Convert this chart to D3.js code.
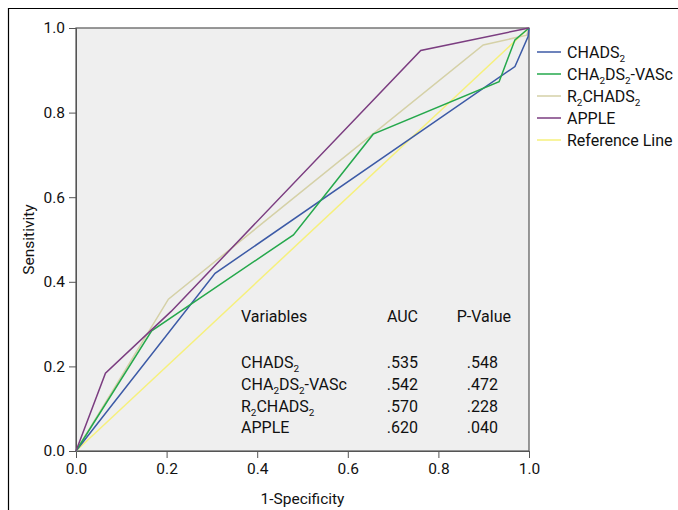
<!DOCTYPE html>
<html>
<head>
<meta charset="utf-8">
<script src="https://cdn.jsdelivr.net/npm/d3@7"></script>
<style>
  body { margin: 0; background: #fff; }
  svg text { font-family: Roboto, "Liberation Sans", sans-serif; fill: #111; }
</style>
</head>
<body>
<div id="chart"></div>
<script>
// ROC curves (1-specificity, sensitivity)
const chadsX = [0, 0.307, 0.969, 0.998, 1];
const chadsY = [0, 0.42, 0.909, 0.98, 1];
const vascX = [0, 0.167, 0.48, 0.656, 0.934, 0.969, 1];
const vascY = [0, 0.284, 0.511, 0.749, 0.873, 0.972, 1];
const r2X = [0, 0.204, 0.899, 0.995, 1];
const r2Y = [0, 0.359, 0.96, 0.983, 1];
const appleX = [0, 0.065, 0.21, 0.761, 1];
const appleY = [0, 0.184, 0.33, 0.947, 1];
const refX = [0, 1];
const refY = [0, 1];

const legendNames = ["CHADS_2", "CHA_2DS_2-VASc", "R_2CHADS_2", "APPLE", "Reference Line"];
const lineColors = ["#3c5aa6", "#25a84c", "#d5d1a7", "#7b3d80", "#f6f07c"];

const tableHeader = ["Variables", "AUC", "P-Value"];
const tableVars = ["CHADS_2", "CHA_2DS_2-VASc", "R_2CHADS_2", "APPLE"];
const aucValues = [".535", ".542", ".570", ".620"];
const pValues = [".548", ".472", ".228", ".040"];

const tickValues = [0, 0.2, 0.4, 0.6, 0.8, 1.0];

const width = 678, height = 510;
const margin = { top: 28, right: 149, bottom: 59, left: 76 };
const fs = 16;

const svg = d3.select("#chart").append("svg")
  .attr("width", width).attr("height", height);

const x = d3.scaleLinear().domain([0, 1]).range([margin.left, width - margin.right]);
const y = d3.scaleLinear().domain([0, 1]).range([height - margin.bottom, margin.top]);

// outer frame (top + left only)
svg.append("path")
  .attr("d", `M8.5,${height} V8.5 H${width}`)
  .attr("fill", "none").attr("stroke", "#000").attr("stroke-width", 1.2);

// plot background
svg.append("rect")
  .attr("x", x(0)).attr("y", y(1))
  .attr("width", x(1) - x(0)).attr("height", y(0) - y(1))
  .attr("fill", "#efefef")
  .attr("stroke", "#555").attr("stroke-width", 1.2);

// text with subscripts, "_2" => subscript 2
function richText(sel, str, size) {
  const parts = str.split(/(_\d)/).filter(s => s.length);
  parts.forEach((p, k) => {
    if (p[0] === "_") {
      sel.append("tspan").attr("font-size", size * 0.62).attr("dy", size * 0.28).text(p.slice(1));
    } else {
      const t = sel.append("tspan").text(p);
      if (k > 0) t.attr("dy", -size * 0.28);
    }
  });
}

// axes
const fmt = d3.format(".1f");
const styleAxis = g => {
  g.select(".domain").attr("stroke", "#555");
  g.selectAll(".tick line").attr("stroke", "#555");
  g.selectAll(".tick text").attr("font-size", 15.5).attr("font-family", null).attr("fill", "#111");
};
svg.append("g")
  .attr("transform", `translate(${x(0)},0)`)
  .call(d3.axisLeft(y).tickValues(tickValues).tickFormat(fmt).tickSize(7).tickPadding(4))
  .call(styleAxis);

svg.append("g")
  .attr("transform", `translate(0,${y(0)})`)
  .call(d3.axisBottom(x).tickValues(tickValues).tickFormat(fmt).tickSize(7).tickPadding(5))
  .call(styleAxis);

// axis titles
svg.append("text")
  .attr("x", (x(0) + x(1)) / 2).attr("y", 504)
  .attr("text-anchor", "middle").attr("font-size", 15.5)
  .text("1-Specificity");

svg.append("text")
  .attr("transform", `translate(34,${(y(0) + y(1)) / 2}) rotate(-90)`)
  .attr("text-anchor", "middle").attr("font-size", 15.5)
  .text("Sensitivity");

// curves
const allX = [chadsX, vascX, r2X, appleX, refX];
const allY = [chadsY, vascY, r2Y, appleY, refY];
const line = d3.line().x(d => x(d[0])).y(d => y(d[1]));
[4, 2, 0, 1, 3].forEach(i => {
  svg.append("path")
    .datum(d3.zip(allX[i], allY[i]))
    .attr("d", line)
    .attr("fill", "none")
    .attr("stroke", lineColors[i])
    .attr("stroke-width", 1.5);
});

// legend
const leg = svg.append("g").attr("transform", "translate(537,52)");
legendNames.forEach((name, i) => {
  const row = leg.append("g").attr("transform", `translate(0,${i * 22})`);
  row.append("line").attr("x1", 0).attr("x2", 24).attr("y1", 0).attr("y2", 0)
    .attr("stroke", lineColors[i]).attr("stroke-width", 1.5);
  const t = row.append("text").attr("x", 30).attr("y", 6).attr("font-size", fs);
  richText(t, name, fs);
});

// AUC table
const table = svg.append("g").attr("font-size", fs);
table.append("text").attr("x", 241).attr("y", 322).text(tableHeader[0]);
table.append("text").attr("x", 418).attr("y", 322).attr("text-anchor", "end").text(tableHeader[1]);
table.append("text").attr("x", 511).attr("y", 322).attr("text-anchor", "end").text(tableHeader[2]);
tableVars.forEach((v, i) => {
  const yy = 368 + i * 21.8;
  richText(table.append("text").attr("x", 241).attr("y", yy), v, fs);
  table.append("text").attr("x", 418).attr("y", yy).attr("text-anchor", "end").text(aucValues[i]);
  table.append("text").attr("x", 498).attr("y", yy).attr("text-anchor", "end").text(pValues[i]);
});
</script>
</body>
</html>
